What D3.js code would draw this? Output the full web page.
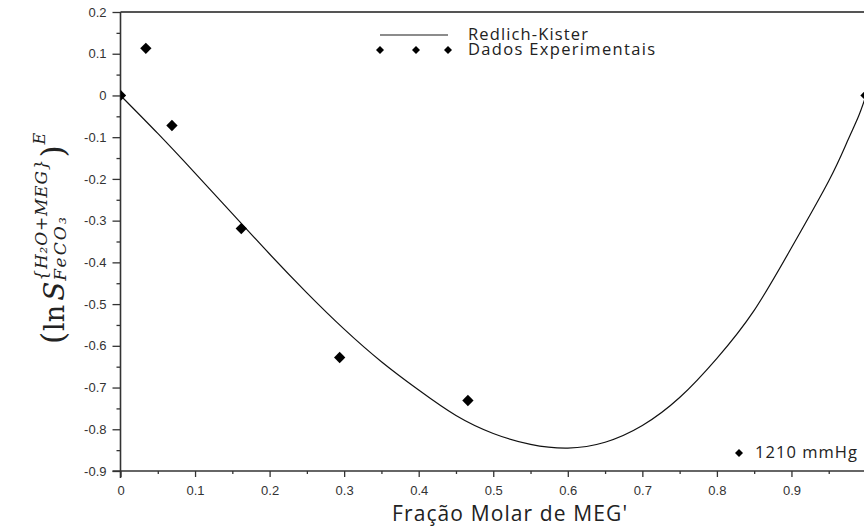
<!DOCTYPE html>
<html>
<head>
<meta charset="utf-8">
<script src="https://cdn.jsdelivr.net/npm/d3@7"></script>
<style>
  body { margin: 0; background: #fff; }
  svg { display: block; }
</style>
</head>
<body>
<svg id="chart" width="864" height="530"></svg>
<script>
// experimental points (fraction MEG', excess ln S)
const expX = [0, 0.034, 0.069, 0.162, 0.294, 0.466, 1];
const expY = [0, 0.113, -0.072, -0.319, -0.628, -0.731, 0];

// Redlich-Kister fit
const fitX = [0, 0.05, 0.1, 0.15, 0.2, 0.25, 0.3, 0.35, 0.4, 0.45, 0.5, 0.55, 0.6, 0.65, 0.7, 0.75, 0.8, 0.85, 0.9, 0.95, 0.975, 0.99, 1];
const fitY = [0, -0.091, -0.186, -0.283, -0.38, -0.473, -0.56, -0.638, -0.706, -0.767, -0.81, -0.836, -0.845, -0.831, -0.791, -0.724, -0.63, -0.515, -0.365, -0.205, -0.11, -0.05, 0];

const xTicks = [0, 0.1, 0.2, 0.3, 0.4, 0.5, 0.6, 0.7, 0.8, 0.9];
const xMinor = [0.05, 0.15, 0.25, 0.35, 0.45, 0.55, 0.65, 0.75, 0.85, 0.95];
const yTicks = [0.2, 0.1, 0, -0.1, -0.2, -0.3, -0.4, -0.5, -0.6, -0.7, -0.8, -0.9];
const yMinor = [0.15, 0.05, -0.05, -0.15, -0.25, -0.35, -0.45, -0.55, -0.65, -0.75, -0.85];

const legendNames = ["Redlich-Kister", "Dados Experimentais"];
const seriesName = "1210 mmHg";
const xTitle = "Fração Molar de MEG'";

const svg = d3.select("#chart");
const pL = 120.5, pR = 866, pT = 12, pB = 471;

const x = d3.scaleLinear().domain([0, 1]).range([pL, pR]);
const y = d3.scaleLinear().domain([-0.9, 0.2]).range([pB, pT]);
const fmt = d => String(+d.toFixed(1));

svg.append("defs").append("clipPath").attr("id", "plot")
  .append("rect").attr("x", pL).attr("y", pT)
  .attr("width", pR - pL).attr("height", pB - pT);

// top frame line
svg.append("line").attr("x1", pL).attr("x2", 864).attr("y1", pT).attr("y2", pT)
  .attr("stroke", "#555").attr("stroke-width", 2);

// x axis
const gx = svg.append("g").attr("transform", `translate(0,${pB})`)
  .call(d3.axisBottom(x).tickValues(xTicks).tickSize(6).tickPadding(9).tickFormat(fmt));
svg.append("g").attr("transform", `translate(0,${pB})`)
  .call(d3.axisBottom(x).tickValues(xMinor).tickSize(3).tickFormat(""))
  .select(".domain").remove();
gx.select(".domain").remove();

// y axis
const gy = svg.append("g").attr("transform", `translate(${pL},0)`)
  .call(d3.axisLeft(y).tickValues(yTicks).tickSize(8).tickPadding(6).tickFormat(fmt));
svg.append("g").attr("transform", `translate(${pL},0)`)
  .call(d3.axisLeft(y).tickValues(yMinor).tickSize(4).tickFormat(""))
  .select(".domain").remove();
gy.select(".domain").remove();

svg.selectAll(".tick line").attr("stroke", "#333").attr("stroke-width", 1.3);
svg.selectAll(".tick text").attr("fill", "#333")
  .style("font-family", "Liberation Sans, Arial, sans-serif").style("font-size", "13px");

svg.append("line").attr("x1", pL - 8).attr("x2", 864).attr("y1", pB).attr("y2", pB)
  .attr("stroke", "#333").attr("stroke-width", 1.6);
svg.append("line").attr("x1", pL).attr("x2", pL).attr("y1", pT).attr("y2", pB + 7)
  .attr("stroke", "#333").attr("stroke-width", 1.6);

// curve + points
const plot = svg.append("g").attr("clip-path", "url(#plot)");
const line = d3.line().x((d, i) => x(fitX[i])).y(d => y(d)).curve(d3.curveNatural);
plot.append("path").datum(fitY).attr("d", line)
  .attr("fill", "none").attr("stroke", "#111").attr("stroke-width", 1.2);

const diamond = d3.symbol(d3.symbolSquare, 64);
plot.selectAll(".pt").data(expY).enter().append("path")
  .attr("class", "pt")
  .attr("d", diamond)
  .attr("transform", (d, i) => `translate(${x(expX[i])},${y(d)}) rotate(45)`)
  .attr("fill", "#000");

// legend
const legFont = "Open Sans, sans-serif";
svg.append("line").attr("x1", 380).attr("x2", 448).attr("y1", 35).attr("y2", 35)
  .attr("stroke", "#666").attr("stroke-width", 1.5);
[380, 416, 448].forEach(cx => {
  svg.append("path").attr("d", d3.symbol(d3.symbolSquare, 32))
    .attr("transform", `translate(${cx},50) rotate(45)`).attr("fill", "#000");
});
const legW = [120, 187];
svg.selectAll(".leg").data(legendNames).enter().append("text")
  .attr("class", "leg")
  .attr("x", 468).attr("y", (d, i) => 40 + i * 15)
  .attr("textLength", (d, i) => legW[i]).attr("lengthAdjust", "spacing")
  .attr("fill", "#222").style("font-family", legFont).style("font-size", "16.5px")
  .text(d => d);

svg.append("path").attr("d", d3.symbol(d3.symbolSquare, 32))
  .attr("transform", "translate(739,453) rotate(45)").attr("fill", "#000");
svg.append("text").attr("x", 755).attr("y", 458)
  .attr("textLength", 102).attr("lengthAdjust", "spacing")
  .attr("fill", "#222").style("font-family", legFont).style("font-size", "16.5px")
  .text(seriesName);

// x title
svg.append("text").attr("x", 392).attr("y", 521)
  .attr("textLength", 235).attr("lengthAdjust", "spacing")
  .attr("fill", "#222").style("font-family", legFont).style("font-size", "21px")
  .text(xTitle);

// y title, pieces chained upward along the rotated baseline
const serif = "DejaVu Serif, serif";
function piece(txt, px, py, size, italic, spacing) {
  const t = svg.append("text")
    .attr("transform", `translate(${px},${py}) rotate(-90)`)
    .attr("fill", "#222").style("font-family", serif)
    .style("font-style", italic ? "italic" : "normal")
    .style("letter-spacing", (spacing || 0) + "px")
    .style("font-size", size + "px").text(txt);
  return t.node().getComputedTextLength();
}
let pos = 344;
pos -= piece("(", 64, pos, 31, false) + 1;
pos -= piece("ln", 64, pos, 27, false) + 4;
pos -= piece("S", 64, pos, 28, true) + 1;
const supLen = piece("{H\u2082O+MEG}", 47, pos, 17, true, 0.8);
const subLen = piece("FeCO\u2083", 66, pos, 17, true, 2.2);
pos -= Math.max(supLen, subLen) + 1;
pos -= piece(")", 64, pos, 31, false) + 1;
piece("E", 45, pos, 16, true);
</script>
</body>
</html>
